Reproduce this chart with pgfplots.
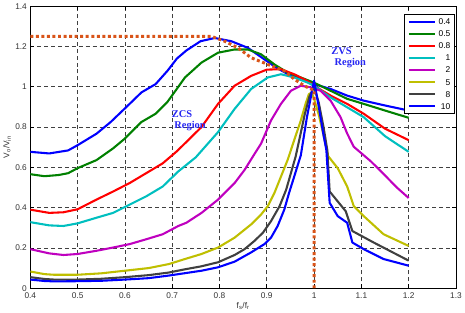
\documentclass[border=0pt]{standalone}
\usepackage{fontspec}
\setmainfont{Liberation Sans}
\newfontfamily\regionfont{Liberation Serif}
\usepackage{pgfplots}
\pgfplotsset{compat=1.18}

\definecolor{qA}{rgb}{0,0,1}
\definecolor{qB}{rgb}{0,0.5,0}
\definecolor{qC}{rgb}{1,0,0}
\definecolor{qD}{rgb}{0,0.75,0.75}
\definecolor{qE}{rgb}{0.75,0,0.75}
\definecolor{qF}{rgb}{0.75,0.75,0}
\definecolor{qG}{rgb}{0.25,0.25,0.25}
\definecolor{qH}{rgb}{0,0,1}
\definecolor{bound}{rgb}{0.85,0.33,0.1}
\definecolor{regiontext}{rgb}{0.15,0.15,0.95}

\begin{document}
\begin{tikzpicture}
\begin{axis}[
  width=430bp, height=285bp, scale only axis,
  xmin=0.4, xmax=1.3, ymin=0, ymax=1.4,
  xtick={0.4,0.5,0.6,0.7,0.8,0.9,1,1.1,1.2,1.3},
  xticklabels={0.4,0.5,0.6,0.7,0.8,0.9,1,1.1,1.2,1.3},
  ytick={0,0.2,0.4,0.6,0.8,1,1.2,1.4},
  yticklabels={0,0.2,0.4,0.6,0.8,1,1.2,1.4},
  tick align=inside,
  major tick length=4bp,
  tick style={black, line width=0.6bp},
  axis line style={black, line width=0.8bp},
  grid=major,
  major grid style={black!75, line width=0.6bp, dash pattern=on 4bp off 3bp},
  tick label style={font=\fontsize{8.4bp}{10bp}\selectfont, text=black!80},
  xticklabel style={yshift=-1bp},
  every axis y label/.style={at={(rel axis cs:0,0.5)}, xshift=-23.5bp, rotate=90, anchor=center},
  every axis x label/.style={at={(rel axis cs:0.5,0)}, yshift=-18bp, anchor=center},
  label style={font=\fontsize{8.4bp}{10bp}\selectfont, text=black!80},
  xlabel={f\textsubscript{s}/f\textsubscript{r}},
  ylabel={V\textsubscript{o}/V\textsubscript{in}},
  legend cell align=right,
  legend style={at={(axis description cs:0.997,0.9716)}, anchor=north east,
    draw=black, line width=0.8bp, fill=white, inner sep=3bp,
    font=\fontsize{8.5bp}{10bp}\selectfont,
    row sep=4bp, column sep=2bp,
    nodes={inner sep=1bp, text height=6.2bp, text depth=0bp}},
  legend image code/.code={\draw[#1] (0bp,0bp) -- (26bp,0bp);},
  every axis plot/.append style={line width=2.1bp, line join=round},
]

% Q = 0.4
\addplot[qA] coordinates {
(0.40,0.677) (0.44,0.669) (0.48,0.684) (0.50,0.710) (0.54,0.767) (0.57,0.825)
(0.61,0.915) (0.635,0.972) (0.665,1.013) (0.69,1.079) (0.71,1.14) (0.73,1.18)
(0.76,1.226) (0.79,1.242) (0.825,1.226) (0.86,1.193) (0.89,1.144) (0.92,1.095)
(0.945,1.062) (0.97,1.04) (1.00,1.013) (1.035,0.989) (1.07,0.956) (1.105,0.931)
(1.15,0.907) (1.20,0.882)};
\addlegendentry{0.4}

% Q = 0.5
\addplot[qB] coordinates {
(0.40,0.566) (0.43,0.556) (0.46,0.562) (0.48,0.571) (0.50,0.596) (0.54,0.636)
(0.575,0.694) (0.60,0.743) (0.635,0.825) (0.665,0.866) (0.69,0.925) (0.71,0.99)
(0.727,1.046) (0.762,1.12) (0.797,1.169) (0.832,1.185) (0.86,1.185) (0.888,1.161)
(0.916,1.111) (0.944,1.07) (0.972,1.046) (1.00,1.02) (1.035,0.98) (1.07,0.94)
(1.105,0.915) (1.15,0.882) (1.20,0.846)};
\addlegendentry{0.5}

% Q = 0.8
\addplot[qC] coordinates {
(0.40,0.390) (0.44,0.374) (0.47,0.377) (0.50,0.392) (0.54,0.44) (0.575,0.48)
(0.61,0.522) (0.645,0.571) (0.68,0.62) (0.71,0.68) (0.762,0.80) (0.797,0.915)
(0.832,1.005) (0.867,1.054) (0.90,1.085) (0.93,1.087) (0.958,1.062) (0.986,1.029)
(1.00,1.005) (1.035,0.956) (1.07,0.915) (1.105,0.866) (1.15,0.792) (1.20,0.735)};
\addlegendentry{0.8}

% Q = 1
\addplot[qD] coordinates {
(0.40,0.328) (0.44,0.312) (0.47,0.309) (0.50,0.322) (0.54,0.35) (0.575,0.374)
(0.61,0.415) (0.645,0.456) (0.68,0.505) (0.713,0.58) (0.75,0.65) (0.797,0.775)
(0.832,0.89) (0.867,0.989) (0.902,1.046) (0.93,1.062) (0.958,1.046) (0.986,1.021)
(1.00,1.005) (1.035,0.947) (1.07,0.898) (1.105,0.849) (1.15,0.755) (1.20,0.677)};
\addlegendentry{1}

% Q = 2
\addplot[qE] coordinates {
(0.40,0.194) (0.44,0.173) (0.47,0.165) (0.50,0.170) (0.54,0.186) (0.575,0.202)
(0.61,0.219) (0.645,0.243) (0.68,0.268) (0.713,0.309) (0.73,0.325) (0.762,0.374)
(0.797,0.44) (0.832,0.522) (0.853,0.587) (0.875,0.67) (0.888,0.718) (0.909,0.833)
(0.93,0.915) (0.951,0.98) (0.972,1.005) (0.993,0.997) (1.014,0.98) (1.035,0.931)
(1.056,0.849) (1.07,0.768) (1.084,0.702) (1.12,0.63) (1.15,0.56) (1.175,0.50)
(1.20,0.448)};
\addlegendentry{2}

% Q = 5
\addplot[qF] coordinates {
(0.40,0.083) (0.43,0.07) (0.45,0.067) (0.50,0.067) (0.55,0.074) (0.60,0.087)
(0.65,0.10) (0.693,0.12) (0.727,0.145) (0.762,0.17) (0.797,0.202) (0.832,0.251)
(0.867,0.317) (0.888,0.366) (0.902,0.407) (0.916,0.472) (0.93,0.554) (0.944,0.636)
(0.958,0.735) (0.972,0.833) (0.982,0.915) (0.989,0.964) (0.995,0.97) (1.00,0.94)
(1.01,0.86) (1.02,0.76) (1.03,0.655) (1.05,0.596) (1.07,0.505) (1.084,0.407)
(1.105,0.358) (1.147,0.268) (1.20,0.21)};
\addlegendentry{5}

% Q = 8
\addplot[qG] coordinates {
(0.40,0.055) (0.43,0.046) (0.45,0.043) (0.50,0.043) (0.55,0.047) (0.60,0.055)
(0.65,0.065) (0.693,0.078) (0.727,0.094) (0.762,0.109) (0.797,0.129) (0.832,0.165)
(0.853,0.194) (0.874,0.235) (0.892,0.276) (0.909,0.333) (0.927,0.407) (0.941,0.489)
(0.951,0.571) (0.961,0.653) (0.97,0.75) (0.98,0.86) (0.99,0.95) (1.00,1.0)
(1.01,0.92) (1.02,0.80) (1.028,0.686) (1.033,0.48) (1.067,0.382) (1.081,0.284)
(1.126,0.227) (1.20,0.137)};
\addlegendentry{8}

% Q = 10
\addplot[qH] coordinates {
(0.40,0.043) (0.43,0.036) (0.45,0.034) (0.50,0.035) (0.55,0.037) (0.60,0.043)
(0.65,0.05) (0.693,0.063) (0.762,0.087) (0.797,0.104) (0.832,0.132) (0.867,0.178)
(0.895,0.219) (0.909,0.251) (0.923,0.309) (0.937,0.39) (0.947,0.472) (0.958,0.554)
(0.972,0.66) (0.985,0.85) (1.00,1.03) (1.01,0.90) (1.02,0.76) (1.026,0.686)
(1.033,0.424) (1.05,0.358) (1.07,0.325) (1.081,0.227) (1.105,0.194) (1.147,0.145)
(1.20,0.112)};
\addlegendentry{10}

% boundary between the ZCS and ZVS regions
\addplot[bound, line width=3bp, dash pattern=on 3bp off 2.6bp, forget plot] coordinates {
(0.40,1.25) (0.783,1.25) (0.811,1.226) (0.839,1.193) (0.867,1.144) (0.902,1.111)
(0.937,1.079) (0.958,1.038) (0.979,1.005) (0.993,0.989) (1.0,0.985) (1.0,0)};

\node[anchor=base west, text=regiontext, inner sep=0pt, font=\regionfont\bfseries\fontsize{10.5bp}{12bp}\selectfont] at (axis cs:0.699,0.846) {ZCS};
\node[anchor=base west, text=regiontext, inner sep=0pt, font=\regionfont\bfseries\fontsize{10.5bp}{12bp}\selectfont] at (axis cs:0.7044,0.792) {Region};
\node[anchor=base west, text=regiontext, inner sep=0pt, font=\regionfont\bfseries\fontsize{10.5bp}{12bp}\selectfont] at (axis cs:1.0363,1.161) {ZVS};
\node[anchor=base west, text=regiontext, inner sep=0pt, font=\regionfont\bfseries\fontsize{10.5bp}{12bp}\selectfont] at (axis cs:1.0432,1.106) {Region};
\end{axis}
\end{tikzpicture}
\end{document}
